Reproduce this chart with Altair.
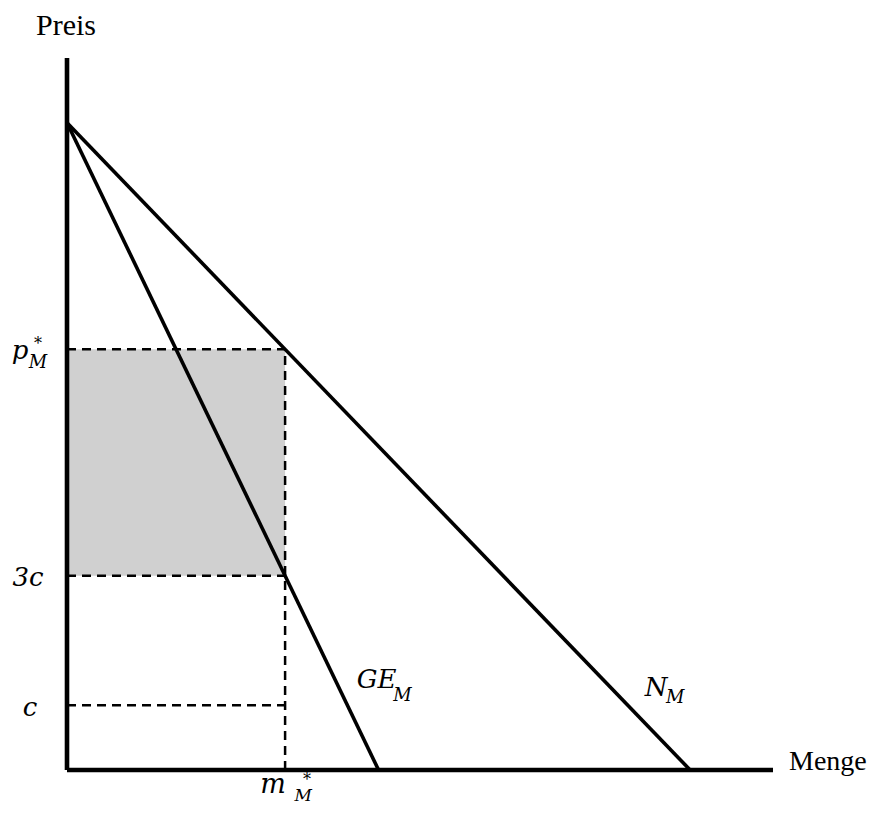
import altair as alt
import pandas as pd

# ---- values (data units) ----
a_intercept = 10.0      # price intercept of both curves
q_N = 10.0              # quantity intercept of N_M
q_GE = 5.0              # quantity intercept of GE_M
m_star = 3.5            # m*_M
p_star = 6.5            # p*_M
c_val = 1.0             # c
three_c = 3.0           # 3c
x_max = 11.33           # end of quantity axis
y_max = 11.0            # top of price axis

curve_names = ["N_M", "N_M", "GE_M", "GE_M"]
curve_x = [0.0, q_N, 0.0, q_GE]
curve_y = [a_intercept, 0.0, a_intercept, 0.0]

dash_names = ["p", "p", "3c", "3c", "c", "c", "m", "m"]
dash_x = [0.0, m_star, 0.0, m_star, 0.0, m_star, m_star, m_star]
dash_y = [p_star, p_star, three_c, three_c, c_val, c_val, 0.0, p_star]

W, H = 706, 712
X = alt.Scale(domain=[0, x_max], nice=False, zero=False)
Y = alt.Scale(domain=[0, y_max], nice=False, zero=False)

curves = pd.DataFrame({"s": curve_names, "x": curve_x, "y": curve_y})
dashes = pd.DataFrame({"s": dash_names, "x": dash_x, "y": dash_y})
rect = pd.DataFrame({"x": [0.0], "x2": [m_star], "y": [three_c], "y2": [p_star]})

area = alt.Chart(rect).mark_rect(color="#d0d0d0").encode(
    x=alt.X("x:Q", scale=X, axis=None),
    x2="x2:Q",
    y=alt.Y("y:Q", scale=Y, axis=None),
    y2="y2:Q",
)

dash_layer = alt.Chart(dashes).mark_line(
    color="black", strokeWidth=2.5, strokeDash=[9, 6], strokeCap="butt"
).encode(
    x=alt.X("x:Q", scale=X, axis=None),
    y=alt.Y("y:Q", scale=Y, axis=None),
    detail="s:N",
)

curve_layer = alt.Chart(curves).mark_line(
    color="black", strokeWidth=3.6, strokeCap="butt"
).encode(
    x=alt.X("x:Q", scale=X, axis=None),
    y=alt.Y("y:Q", scale=Y, axis=None),
    detail="s:N",
)

axes_df = pd.DataFrame({"x": [0.0, 0.0], "y": [0.0, 0.0], "x2": [x_max, 0.0], "y2": [0.0, y_max]})
axis_layer = alt.Chart(axes_df).mark_rule(color="black", strokeWidth=4.6, strokeCap="butt").encode(
    x=alt.X("x:Q", scale=X, axis=None),
    y=alt.Y("y:Q", scale=Y, axis=None),
    x2="x2:Q",
    y2="y2:Q",
)

MATH = "DejaVu Serif"
TEXT = "Liberation Serif"


def label(text, xv, yv, dx, dy, size, italic=True, align="center", font=MATH):
    return alt.Chart(pd.DataFrame({"t": [text]})).mark_text(
        font=font,
        fontSize=size,
        fontStyle="italic" if italic else "normal",
        align=align,
        baseline="alphabetic",
        dx=dx,
        dy=dy,
        color="black",
    ).encode(
        x=alt.datum(xv, scale=X),
        y=alt.datum(yv, scale=Y),
        text="t:N",
    )


labels = [
    label("p", 0, p_star, -47, 10, 26),
    label("*", 0, p_star, -29, 0, 16, italic=False),
    label("M", 0, p_star, -29, 19, 18),
    label("3c", 0, three_c, -39, 10, 26),
    label("c", 0, c_val, -37, 11, 26),
    label("m", m_star, 0, -12, 23, 27),
    label("*", m_star, 0, 22, 15, 16, italic=False),
    label("M", m_star, 0, 18, 31, 17),
    label("GE", q_GE, 0, -2, -82, 26),
    label("M", q_GE, 0, 24, -69, 18),
    label("N", q_N, 0, -34, -74, 26),
    label("M", q_N, 0, -15, -67, 18),
    label("Preis", 0, y_max, -1, -23, 30, italic=False, font=TEXT),
    label("Menge", x_max, 0, 16, 0, 28, italic=False, align="left", font=TEXT),
]

chart = alt.layer(area, dash_layer, curve_layer, axis_layer, *labels).properties(
    width=W,
    height=H,
    autosize=alt.AutoSizeParams(type="none"),
    padding={"left": 59, "top": 50, "right": 95, "bottom": 36},
    background="white",
).configure_view(stroke=None)

chart.save("out.html", embed_options={"renderer": "svg", "actions": False})
